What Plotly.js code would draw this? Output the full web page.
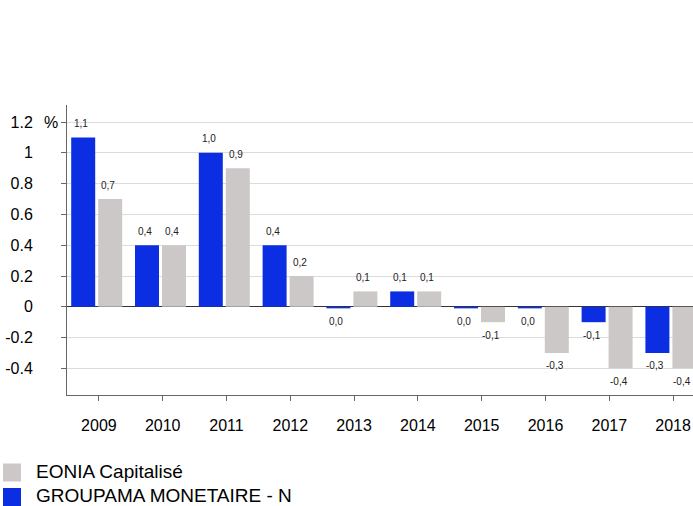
<!DOCTYPE html>
<html><head><meta charset="utf-8">
<script src="https://cdn.plot.ly/plotly-3.0.1.min.js"></script>
<style>body{margin:0;background:#fff}#chart{width:693px;height:506px}</style>
</head><body><div id="chart"></div>
<script>
const years = ["2009","2010","2011","2012","2013","2014","2015","2016","2017","2018"];
const fundValues = [1.1, 0.4, 1.0, 0.4, -0.01, 0.1, -0.01, -0.01, -0.1, -0.3];
const fundLabels = ["1,1","0,4","1,0","0,4","0,0","0,1","0,0","0,0","-0,1","-0,3"];
const indexValues = [0.7, 0.4, 0.9, 0.2, 0.1, 0.1, -0.1, -0.3, -0.4, -0.4];
const indexLabels = ["0,7","0,4","0,9","0,2","0,1","0,1","-0,1","-0,3","-0,4","-0,4"];
const fundName = "GROUPAMA MONETAIRE - N";
const indexName = "EONIA Capitalisé";
const blue = "#0b2ee2";
const gray = "#ccc8c8";

const W = 693, H = 506, L = 67, T = 105, B = 111, R = 0;
const pw = W - L - R, ph = H - T - B;
const catPx = 63.8;
const FONT = "Liberation Sans, Arial, sans-serif";

const traces = [
  {type:"bar", x:years, y:fundValues, name:fundName, marker:{color:blue},
   offset:-0.434, width:0.376, hoverinfo:"none"},
  {type:"bar", x:years, y:indexValues, name:indexName, marker:{color:gray},
   offset:-0.011, width:0.376, hoverinfo:"none"}
];

const ann = [];
function addLabels(vals, labs, off){
  vals.forEach((v,i)=>{
    ann.push({x:i + off, y:v, xref:"x", yref:"y", text:labs[i], showarrow:false,
      xanchor:"center", yanchor:"middle", xshift:-2, yshift: v>=0 ? 14 : -13,
      font:{family:FONT, size:10, color:"#222"}});
  });
}
addLabels(fundValues, fundLabels, -0.434 + 0.188);
addLabels(indexValues, indexLabels, -0.011 + 0.188);
ann.push({xref:"paper", yref:"y", x:(51-L)/pw, y:1.2, xanchor:"center", yanchor:"middle",
  text:"%", showarrow:false, font:{family:FONT, size:16, color:"#000"}});
// legend
const legendItems = [[indexName, gray, 472.5, 471.5],[fundName, blue, 497, 495.5]];
const shapes = [];
legendItems.forEach(([name,col,cy,ty])=>{
  shapes.push({type:"rect", xref:"paper", yref:"paper", x0:(3-L)/pw, x1:(21-L)/pw,
    y0:(H-B-(cy+9))/ph, y1:(H-B-(cy-9))/ph, fillcolor:col, line:{width:0}});
  ann.push({xref:"paper", yref:"paper", x:(35-L)/pw, y:(H-B-ty)/ph, xanchor:"left", yanchor:"middle",
    text:name, showarrow:false, borderpad:0, font:{family:FONT, size:19, color:"#000"}});
});

const layout = {
  width:W, height:H, margin:{l:L, r:R, t:T, b:B, pad:0},
  paper_bgcolor:"#fff", plot_bgcolor:"#fff",
  barmode:"group",
  showlegend:false,
  font:{family:FONT, size:16, color:"#000"},
  xaxis:{type:"category", range:[-0.5, -0.5 + pw/catPx], showgrid:false, zeroline:false,
    showline:true, linecolor:"#666", linewidth:1, ticks:"outside", ticklen:5, tickcolor:"#666",
    ticklabelstandoff:11, tickfont:{size:16}, fixedrange:true},
  yaxis:{range:[-0.573, 1.311], tickvals:[-0.4,-0.2,0,0.2,0.4,0.6,0.8,1,1.2],
    ticktext:["-0.4","-0.2","0","0.2","0.4","0.6","0.8","1","1.2"],
    showgrid:true, gridcolor:"#dcdcdc", gridwidth:1,
    zeroline:true, zerolinecolor:"#333", zerolinewidth:1,
    showline:true, linecolor:"#666", linewidth:1, ticks:"outside", ticklen:5, tickcolor:"#666",
    ticklabelstandoff:25, tickfont:{size:16}, fixedrange:true},
  annotations:ann, shapes:shapes
};
Plotly.newPlot("chart", traces, layout, {displayModeBar:false, staticPlot:true});
</script></body></html>
